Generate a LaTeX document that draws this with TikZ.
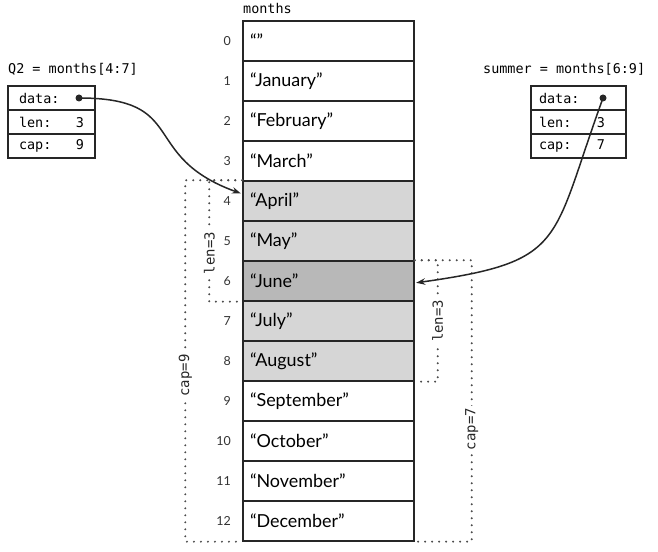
\documentclass[tikz,border=0pt]{standalone}
\usepackage{fontspec}
\setmainfont{Lato}
\setmonofont{DejaVu Sans Mono}
\usepackage{tikz}
\usetikzlibrary{arrows.meta}
\usetikzlibrary{positioning}
\tikzset{>={Stealth[length=9bp,width=6.5bp]}}
\colorlet{rowlight}{black!16}
\colorlet{rowdark}{black!28}
\tikzstyle{cell} = [draw=black!85, line width=1.4bp, minimum height=40bp, inner ysep=0pt, inner xsep=7bp, text width=157bp, align=left, font=\fontsize{18}{20}\selectfont]
\tikzstyle{idx} = [anchor=east, inner sep=0pt, font=\fontsize{12.5}{14}\selectfont, text=black!80]
\tikzstyle{field} = [draw=black!85, line width=1.4bp, minimum height=24bp, inner ysep=0pt, align=left, font=\ttfamily\fontsize{13.5}{15}\selectfont]
\tikzstyle{ptr} = [circle, fill=black!85, inner sep=0pt, minimum size=7bp]
\tikzstyle{span} = [line width=2.2bp, line cap=round, dash pattern=on 0pt off 7bp, black!70]
\tikzstyle{spanlabel} = [rotate=90, fill=white, inner sep=2.5bp, font=\ttfamily\fontsize{14}{16}\selectfont, text=black!85]
\tikzstyle{caption} = [anchor=base west, inner sep=0pt, font=\ttfamily\fontsize{13.5}{15}\selectfont]
\tikzstyle{link} = [->, line width=1.5bp, black!85, shorten >=1.5bp]

\begin{document}
\begin{tikzpicture}[x=1bp, y=1bp]
\useasboundingbox (0, 0) rectangle (658, 552);

% the array
\node [caption] (mlabel) at (243, 538) {months};
\foreach \i/\txt/\shade in {0/{“”}/white, 1/“January”/white, 2/“February”/white,
    3/“March”/white, 4/“April”/rowlight, 5/“May”/rowlight, 6/“June”/rowdark,
    7/“July”/rowlight, 8/“August”/rowlight, 9/“September”/white,
    10/“October”/white, 11/“November”/white, 12/“December”/white} {
  \node [cell, fill=\shade] (m\i) at (328.5, {511-40*\i}) {\txt};
  \node [idx] (i\i) at (231, {511-40*\i}) {\i};
}

% slice headers
\node [caption] (q2label) at (8, 478) {Q2 = months[4:7]};
\node [field, text width=65bp, inner xsep=11bp] (q2data) at (51.5, 454) {data:};
\node [field, text width=65bp, inner xsep=11bp] (q2len) at (51.5, 430) {len:\hfill 3};
\node [field, text width=65bp, inner xsep=11bp] (q2cap) at (51.5, 406) {cap:\hfill 9};
\node [ptr] (q2dot) at (79, 454) {};

\node [caption] (sulabel) at (483, 478) {summer = months[6:9]};
\node [field, text width=79bp, inner xsep=8bp] (sudata) at (578.5, 454) {data:};
\node [field, text width=79bp, inner xsep=8bp] (sulen) at (578.5, 430) {len:\hfill 3\kern13bp};
\node [field, text width=79bp, inner xsep=8bp] (sucap) at (578.5, 406) {cap:\hfill 7\kern13bp};
\node [ptr] (sudot) at (603, 454) {};

% len and cap spans
\draw [span] (m4.north west) -- ++(-33, 0) |- node [spanlabel, pos=0.3] {len=3} (m6.south west);
\draw [span] (m4.north west) -- ++(-57, 0) |- node [spanlabel, pos=0.27] {cap=9} (m12.south west);
\draw [span] (m6.north east) -- ++(23, 0) |- node [spanlabel, pos=0.25] {len=3} (m8.south east);
\draw [span] (m6.north east) -- ++(57, 0) |- node [spanlabel, pos=0.3] {cap=7} (m12.south east);

% pointers
\draw [link] (q2dot.center) to [out=0, in=160, looseness=1.5] ([yshift=7bp]m4.west);
\draw [link] (sudot.center) to [out=250, in=8, looseness=1.5] ([yshift=-2bp]m6.east);
\end{tikzpicture}
\end{document}
